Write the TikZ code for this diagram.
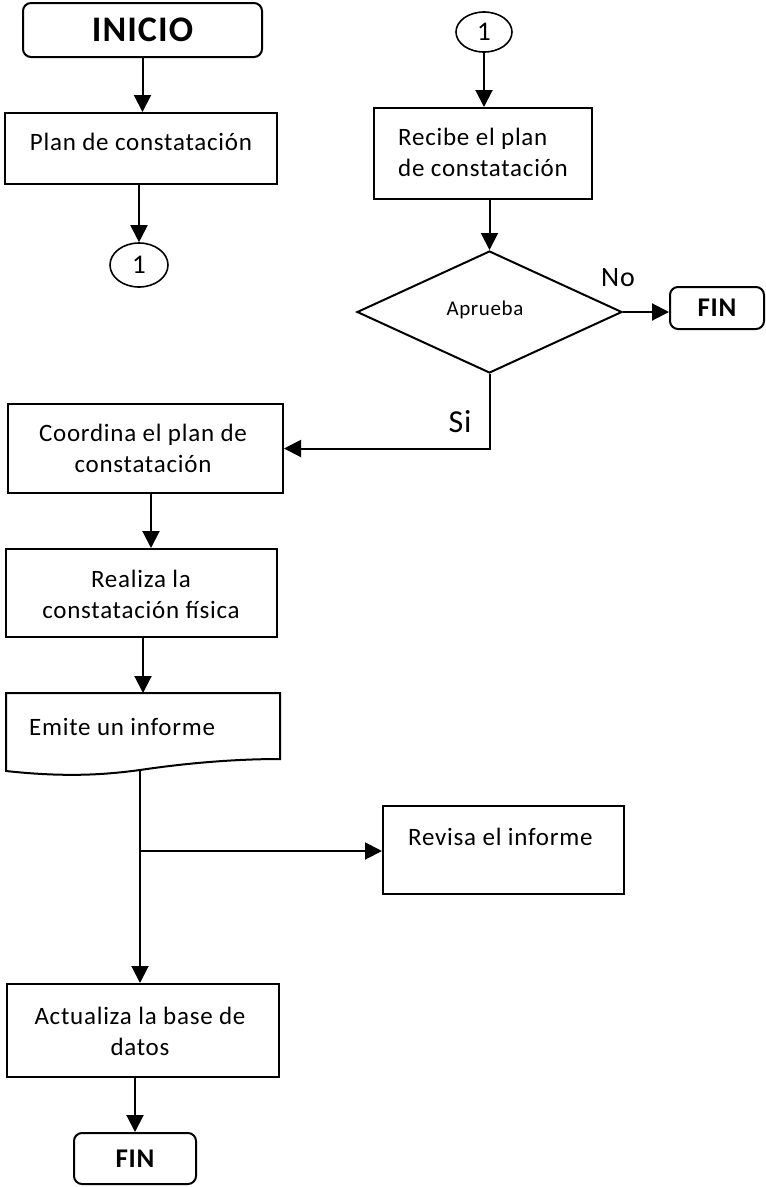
\documentclass[tikz,border=0pt]{standalone}
\usepackage{fontspec}
\setmainfont{Carlito}[LetterSpace=3]
\usetikzlibrary{arrows.meta,shapes.geometric}
\tikzset{
  conn/.style={line width=2pt,-{Triangle[width=17pt,length=17pt]}},
  procbox/.style={draw,line width=2pt,rectangle,inner sep=0pt},
  termbox/.style={draw,line width=2pt,rectangle,rounded corners=8pt,inner sep=0pt},
  oval/.style={draw,line width=1.6pt,ellipse,inner sep=0pt,font=\fontsize{27}{27}\selectfont},
  txt/.style={font=\fontsize{25}{31}\selectfont,align=center,inner sep=0pt}
}
\begin{document}
\begin{tikzpicture}[x=1pt,y=-1pt]
\useasboundingbox (0,0) rectangle (766,1187);
% left column
\node[termbox,minimum width=239pt,minimum height=54pt,font=\fontsize{36}{36}\selectfont\bfseries] (inicio) at (142.5,30) {INICIO};
\node[procbox,minimum width=272pt,minimum height=71pt] (plan) at (141,148.5) {};
\node[txt] (plant) at (141,142) {Plan de constatación};
\node[oval,minimum width=58pt,minimum height=44pt] (c1a) at (139,265) {1};
% right column
\node[oval,minimum width=56pt,minimum height=40pt] (c1b) at (484,32) {1};
\node[procbox,minimum width=218pt,minimum height=91pt] (recibe) at (483,153.5) {};
\node[txt,align=left,anchor=west] (recibet) at (398,152) {Recibe el plan\\de constatación};
\node[draw,line width=2pt,diamond,aspect=2.17,minimum width=265pt,minimum height=122pt,inner sep=0pt] (aprueba) at (489.5,312) {};
\node[font=\fontsize{21}{21}\selectfont] (apruebat) at (485,310) {Aprueba};
\node[termbox,minimum width=94pt,minimum height=42pt,font=\fontsize{27}{27}\selectfont\bfseries] (fin1) at (717,308) {FIN};
\node[font=\fontsize{28}{28}\selectfont] (no) at (618,278) {No};
\node[font=\fontsize{32}{32}\selectfont] (si) at (460,422) {Si};
% lower left
\node[procbox,minimum width=275pt,minimum height=89pt] (coord) at (145.5,448.5) {};
\node[txt] (coordt) at (143,448) {Coordina el plan de\\constatación};
\node[procbox,minimum width=271pt,minimum height=88pt] (realiza) at (141.5,593) {};
\node[txt] (realizat) at (141,594) {Realiza la\\constatación física};
\draw[line width=2pt] (6,693) -- (280,693) -- (280,759) .. controls (230,759) and (180,764) .. (140,770) .. controls (110,774) and (70,778) .. (6,771) -- cycle;
\coordinate (docb) at (140,770);
\node[txt,anchor=west] (emitet) at (29,727) {Emite un informe};
\node[procbox,minimum width=241pt,minimum height=88pt] (revisa) at (503.5,850) {};
\node[txt,anchor=west] (revisat) at (408,837) {Revisa el informe};
\node[procbox,minimum width=272pt,minimum height=93pt] (actual) at (143,1030.5) {};
\node[txt] (actualt) at (140,1031) {Actualiza la base de\\datos};
\node[termbox,minimum width=122pt,minimum height=51pt,font=\fontsize{27}{27}\selectfont\bfseries] (fin2) at (135,1158.5) {FIN};
% connectors
\draw[conn] (inicio.south) -- (plan.north -| inicio.south);
\draw[conn] (plan.south -| c1a.north) -- (c1a.north);
\draw[conn] (c1b.south) -- (recibe.north -| c1b.south);
\draw[conn] (recibe.south -| aprueba.north) -- (aprueba.north);
\draw[conn] (aprueba.east) -- (fin1.west |- aprueba.east);
\coordinate (sicorner) at (aprueba.south |- coord.east);
\draw[conn] (aprueba.south) -- (sicorner) -- (coord.east);
\coordinate (cr) at (151,0);
\draw[conn] (coord.south -| cr) -- (realiza.north -| cr);
\coordinate (re) at (143,693);
\draw[conn] (realiza.south -| re) -- (re);
\coordinate (branch) at (140,851);
\draw[conn] (docb) -- (actual.north -| docb);
\draw[conn] (branch) -- (revisa.west |- branch);
\draw[conn] (actual.south -| fin2.north) -- (fin2.north);
\end{tikzpicture}
\end{document}
